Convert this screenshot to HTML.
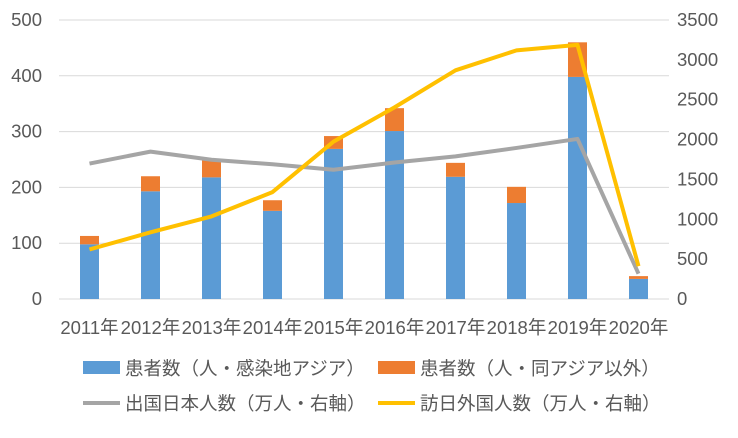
<!DOCTYPE html>
<html><head><meta charset="utf-8"><style>
body{margin:0;background:#fff;}
text{font-family:"Liberation Sans","Noto Sans CJK JP",sans-serif;fill:#595959;}
</style></head><body>
<svg id="chart" width="738" height="433" xmlns="http://www.w3.org/2000/svg">
<g id="grid"></g>
<g id="bars"></g>
<g id="lines"></g>
<g id="axes"></g>
<g>
<rect x="83" y="361" width="37" height="13" fill="#5B9BD5"/>
<text x="125" y="375" font-size="18.5">患者数（人・感染地アジア）</text>
<rect x="378" y="361" width="37" height="13" fill="#ED7D31"/>
<text x="420" y="375" font-size="18.5">患者数（人・同アジア以外）</text>
<line x1="83" y1="403" x2="120" y2="403" stroke="#A5A5A5" stroke-width="4"/>
<text x="125" y="410" font-size="18.5">出国日本人数（万人・右軸）</text>
<line x1="378" y1="403" x2="415" y2="403" stroke="#FFC000" stroke-width="4"/>
<text x="420" y="410" font-size="18.5">訪日外国人数（万人・右軸）</text>
</g>
</svg>
<script>
const categories=["2011年","2012年","2013年","2014年","2015年","2016年","2017年","2018年","2019年","2020年"];
const asiaPatients=[98,193,218,158,269,301,219,172,398,36];
const otherPatients=[15,27,31,19,23,41,25,29,62,5];
const outbound=[1699,1849,1747,1690,1621,1712,1789,1895,2008,317];
const inbound=[622,836,1036,1341,1974,2404,2869,3119,3188,412];
const leftTicks=[0,100,200,300,400,500];
const rightTicks=[0,500,1000,1500,2000,2500,3000,3500];
const NS="http://www.w3.org/2000/svg";
const X0=59,X1=669,Y0=299,Y1=20;
const xC=i=>X0+(X1-X0)/categories.length*(i+0.5);
const yL=v=>Y0-(Y0-Y1)*v/500;
const yR=v=>Y0-(Y0-Y1)*v/3500;
function mk(p,t,a){const e=document.createElementNS(NS,t);for(const k in a)e.setAttribute(k,a[k]);p.appendChild(e);return e;}
const grid=document.getElementById('grid'),bars=document.getElementById('bars'),lines=document.getElementById('lines'),axes=document.getElementById('axes');
leftTicks.forEach(v=>{
 const l=mk(grid,'line',{x1:X0,x2:X1,y1:yL(v),y2:yL(v),stroke:'#D9D9D9','stroke-width':1});
 
 
 const t=mk(axes,'text',{x:42,y:yL(v)+6,'text-anchor':'end','font-size':18.5});t.textContent=v;
 
 
});
rightTicks.forEach(v=>{
 const t=mk(axes,'text',{x:677,y:yR(v)+6,'font-size':18.5});t.textContent=v;
 
 
});
categories.forEach((c,i)=>{
 const t=mk(axes,'text',{x:xC(i),y:334,'text-anchor':'middle','font-size':18.5});t.textContent=c;
 
 
 const bw=19;
 const b1=mk(bars,'rect',{x:xC(i)-bw/2,y:yL(asiaPatients[i]),width:bw,height:Y0-yL(asiaPatients[i]),fill:'#5B9BD5'});
 
 
 const tot=asiaPatients[i]+otherPatients[i];
 const b2=mk(bars,'rect',{x:xC(i)-bw/2,y:yL(tot),width:bw,height:yL(asiaPatients[i])-yL(tot),fill:'#ED7D31'});
 
 
});
const p1=mk(lines,'polyline',{points:outbound.map((v,i)=>xC(i)+','+yR(v)).join(' '),fill:'none',stroke:'#A5A5A5','stroke-width':4,'stroke-linejoin':'round'});


const p2=mk(lines,'polyline',{points:inbound.map((v,i)=>xC(i)+','+yR(v)).join(' '),fill:'none',stroke:'#FFC000','stroke-width':4,'stroke-linejoin':'round'});


</script>
</body></html>
